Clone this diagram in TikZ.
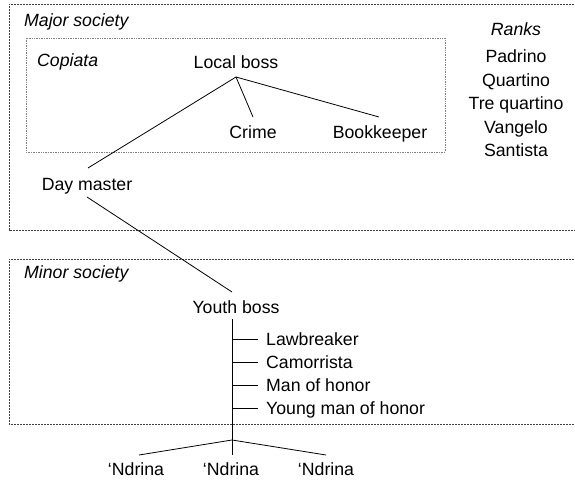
\documentclass[tikz,border=0pt]{standalone}
\usepackage{fontspec}
\setmainfont{Liberation Sans}
\begin{document}
\begin{tikzpicture}[x=1pt,y=-1pt,
  lbl/.style={inner sep=0pt,anchor=base,font=\fontsize{17.7}{20}\selectfont},
  lbw/.style={lbl,anchor=base west},
  grp/.style={draw=black!75,line width=0.8pt,dash pattern=on 0.8pt off 0.7pt},
  subgrp/.style={draw=black!50,line width=0.6pt,dash pattern=on 0.8pt off 0.9pt},
  con/.style={draw=black,line width=0.8pt}]
\useasboundingbox (0,0) rectangle (575,484);
% group boxes
\draw[grp] (580,4) -- (9,4) -- (9,230) -- (580,230);
\draw[subgrp] (26,38) rectangle (445,152);
\draw[grp] (580,259) -- (9,259) -- (9,424) -- (580,424);
% group titles
\node[lbw,font=\fontsize{17.7}{20}\selectfont\itshape] (major) at (24,26.5) {Major society};
\node[lbw,font=\fontsize{17.7}{20}\selectfont\itshape] (copiata) at (37,67) {Copiata};
\node[lbw,font=\fontsize{17.7}{20}\selectfont\itshape] (minor) at (24,278) {Minor society};
% ranks
\node[lbl,font=\fontsize{17.7}{20}\selectfont\itshape] (ranks) at (516,36) {Ranks};
\node[lbl] (padrino) at (516,63) {Padrino};
\node[lbl] (quartino) at (516,86.5) {Quartino};
\node[lbl] (tre) at (516,110) {Tre quartino};
\node[lbl] (vangelo) at (516,133) {Vangelo};
\node[lbl] (santista) at (516,156.5) {Santista};
% roles
\node[lbl] (local) at (236,69) {Local boss};
\node[lbl] (crime) at (253,139) {Crime};
\node[lbl] (book) at (380,139) {Bookkeeper};
\node[lbl] (day) at (87,190) {Day master};
\node[lbl] (youth) at (236,313) {Youth boss};
\node[lbw] (law) at (266,345) {Lawbreaker};
\node[lbw] (cam) at (266,368) {Camorrista};
\node[lbw] (man) at (266,391) {Man of honor};
\node[lbw] (young) at (266,414) {Young man of honor};
\node[lbl] (n1) at (136,475) {‘Ndrina};
\node[lbl] (n2) at (231,475) {‘Ndrina};
\node[lbl] (n3) at (326,475) {‘Ndrina};
% connector coordinates
\coordinate (localB) at (236,77);
\coordinate (crimeT) at (253,117);
\coordinate (bookT) at (379,117);
\coordinate (dayT) at (88,168);
\coordinate (dayB) at (87,197);
\coordinate (youthT) at (232,292);
\coordinate (youthB) at (232,319);
\coordinate (stemE) at (232,455);
\coordinate (s1) at (232,339);
\coordinate (s2) at (232,362);
\coordinate (s3) at (232,385);
\coordinate (s4) at (232,408);
\coordinate (law0) at (258,339);
\coordinate (cam0) at (258,362);
\coordinate (man0) at (258,385);
\coordinate (young0) at (258,408);
\coordinate (apex) at (232,440);
\coordinate (n1T) at (139,455);
\coordinate (n3T) at (326,455);
% connectors
\draw[con] (localB) -- (dayT);
\draw[con] (localB) -- (crimeT);
\draw[con] (localB) -- (bookT);
\draw[con] (dayB) -- (youthT);
\draw[con] (youthB) -- (stemE);
\draw[con] (s1) -- (law0);
\draw[con] (s2) -- (cam0);
\draw[con] (s3) -- (man0);
\draw[con] (s4) -- (young0);
\draw[con] (n1T) -- (apex) -- (n3T);
\end{tikzpicture}
\end{document}
